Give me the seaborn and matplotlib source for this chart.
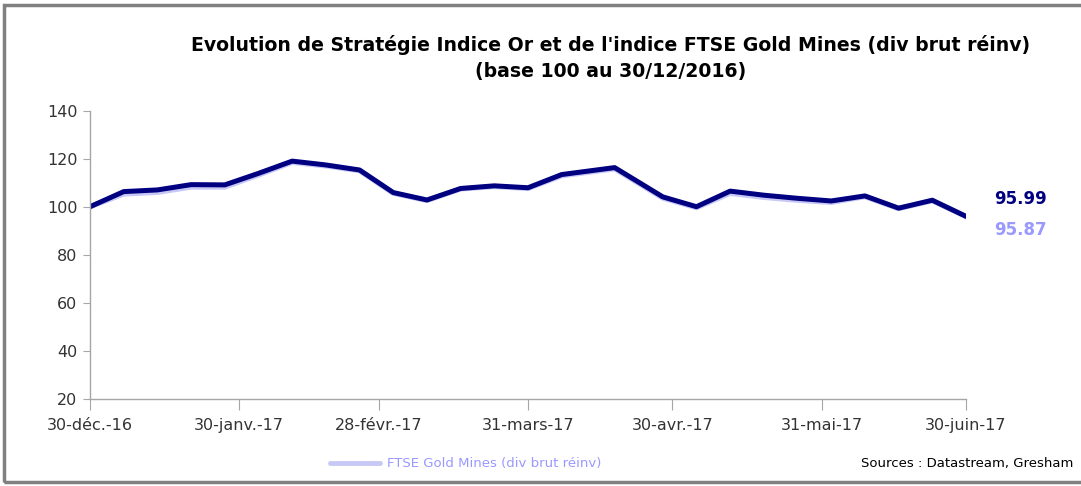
import matplotlib
matplotlib.use("Agg")
import matplotlib.pyplot as plt
from matplotlib.patches import Rectangle
import pandas as pd
import seaborn as sns

dates = ["2016-12-30", "2017-01-06", "2017-01-13", "2017-01-20", "2017-01-27",
         "2017-02-03", "2017-02-10", "2017-02-17", "2017-02-24", "2017-03-03",
         "2017-03-10", "2017-03-17", "2017-03-24", "2017-03-31", "2017-04-07",
         "2017-04-18", "2017-04-28", "2017-05-05", "2017-05-12", "2017-05-19",
         "2017-05-26", "2017-06-02", "2017-06-09", "2017-06-16", "2017-06-23",
         "2017-06-30"]
strategie = [100.0, 106.3, 107.0, 109.2, 109.1, 113.9, 119.0, 117.4, 115.3, 105.9,
             102.8, 107.6, 108.7, 107.9, 113.4, 116.3, 104.1, 100.0, 106.5, 104.8,
             103.5, 102.4, 104.5, 99.4, 102.7, 95.99]
ftse = [100.0, 105.3, 106.0, 108.2, 108.2, 113.2, 118.5, 117.0, 115.0, 105.6,
        102.6, 107.4, 108.4, 107.6, 112.9, 115.8, 103.6, 99.6, 105.6, 103.9,
        102.7, 101.8, 104.2, 99.2, 102.5, 95.87]
tick_dates = ["2016-12-30", "2017-01-30", "2017-02-28", "2017-03-31",
              "2017-04-30", "2017-05-31", "2017-06-30"]
tick_labels = ["30-déc.-16", "30-janv.-17", "28-févr.-17", "31-mars-17",
               "30-avr.-17", "31-mai-17", "30-juin-17"]

navy = "#000080"
lav = "#C8C8F6"
lav_txt = "#9999FF"

df = pd.DataFrame({"date": pd.to_datetime(dates), "strat": strategie, "ftse": ftse})

sns.set_style("white")
plt.rcParams["font.family"] = ["DejaVu Sans"]
plt.rcParams["text.color"] = "black"

fig = plt.figure(figsize=(10.81, 4.86), dpi=100)
ax = fig.add_axes([0.0833, 0.1796, 0.8103, 0.5926])

sns.lineplot(data=df, x="date", y="ftse", ax=ax, color=lav, linewidth=3.8)
sns.lineplot(data=df, x="date", y="strat", ax=ax, color=navy, linewidth=3.6)

ax.set_xlim(pd.Timestamp(dates[0]), pd.Timestamp(dates[-1]))
ax.set_ylim(20, 140)
ax.set_yticks(range(20, 141, 20))
ax.set_xticks(pd.to_datetime(tick_dates))
ax.set_xticklabels(tick_labels)
ax.set_xlabel("")
ax.set_ylabel("")
for s in ["top", "right"]:
    ax.spines[s].set_visible(False)
for s in ["left", "bottom"]:
    ax.spines[s].set_color("#A6A6A6")
    ax.spines[s].set_linewidth(1)
ax.tick_params(axis="y", length=5, color="#A6A6A6", labelsize=11.5, labelcolor="#333333", pad=4)
ax.tick_params(axis="x", length=8, color="#A6A6A6", labelsize=11.5, labelcolor="#333333", pad=6,
               direction="out")
ax.tick_params(axis="both", which="both", left=True, bottom=True)

# end value labels
ax.text(1.032, 0.693, "95.99", transform=ax.transAxes,
        color=navy, fontsize=12, fontweight="bold", va="center", ha="left")
ax.text(1.032, 0.587, "95.87", transform=ax.transAxes,
        color=lav_txt, fontsize=12, fontweight="bold", va="center", ha="left")

fig.text(0.565, 1 - 58 / 486, "Evolution de Stratégie Indice Or et de l'indice FTSE Gold Mines (div brut réinv)\n(base 100 au 30/12/2016)",
         ha="center", va="center", fontsize=13.6, fontweight="bold", linespacing=1.45,
         color="black")

# legend
fig.lines.append(plt.Line2D([330 / 1081, 380 / 1081], [1 - 463 / 486] * 2, transform=fig.transFigure,
                            color=lav, linewidth=3.5))
fig.text(387 / 1081, 1 - 463 / 486, "FTSE Gold Mines (div brut réinv)", color=lav_txt,
         fontsize=9.5, va="center", ha="left")
fig.text(1073 / 1081, 1 - 463 / 486, "Sources : Datastream, Gresham", color="black",
         fontsize=9.5, va="center", ha="right")

# frame
fig.patches.append(Rectangle((4 / 1081, 4 / 486), 1.2, 1 - 9 / 486, transform=fig.transFigure,
                             fill=False, edgecolor="#808080", linewidth=2.5, clip_on=False))

fig.savefig("out.png", dpi=100)
